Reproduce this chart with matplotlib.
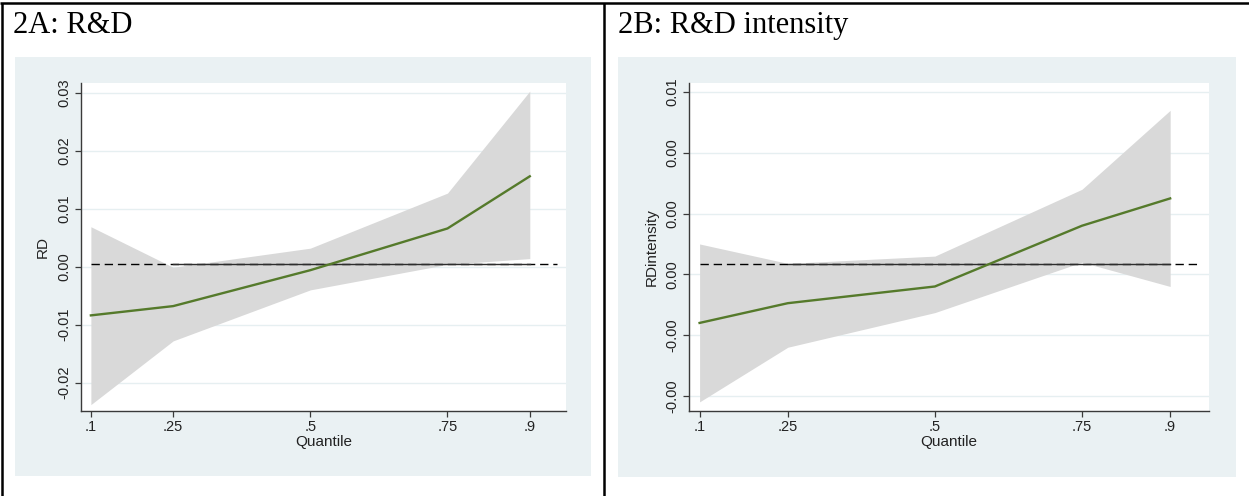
"""Quantile regression coefficient plots (R&D and R&D intensity)."""

import matplotlib
matplotlib.use("Agg")
import matplotlib.pyplot as plt  # noqa: E402
from matplotlib.patches import Rectangle  # noqa: E402
from matplotlib.lines import Line2D  # noqa: E402
from matplotlib.ticker import FormatStrFormatter  # noqa: E402

# ── Data ───────────────────────────────────────────────────────────────────
quantiles = [0.1, 0.25, 0.5, 0.75, 0.9]
quantile_labels = [".1", ".25", ".5", ".75", ".9"]

rd_coef = [-0.0084, -0.0068, -0.0006, 0.0066, 0.0156]
rd_upper = [0.0069, -0.0001, 0.0032, 0.0127, 0.0303]
rd_lower = [-0.0238, -0.0128, -0.0040, 0.0004, 0.0014]
rd_ols = 0.0005
rd_yticks = [-0.02, -0.01, 0.0, 0.01, 0.02, 0.03]

rdi_coef = [-0.0016, -0.00095, -0.0004, 0.0016, 0.0025]
rdi_upper = [0.0010, 0.00036, 0.0006, 0.0028, 0.0054]
rdi_lower = [-0.0042, -0.0024, -0.00126, 0.0004, -0.0004]
rdi_ols = 0.00033
rdi_yticks = [-0.004, -0.002, 0.0, 0.002, 0.004, 0.006]

ols_span = (0.1, 0.95)

# ── Style ──────────────────────────────────────────────────────────────────
W, H = 1249, 496
BG = "#EAF1F3"
GRID = "#E6EFF1"
BAND = "#D9D9D9"
GREEN = "#557A2B"
AXIS = "#3A3A3A"

plt.rcParams.update({
    "font.family": ["Liberation Sans", "DejaVu Sans"],
    "lines.scale_dashes": False,
})


def px_rect(x0, y0, x1, y1):
    """Pixel box (top-left origin) -> figure-fraction [l, b, w, h]."""
    return [x0 / W, 1 - y1 / H, (x1 - x0) / W, (y1 - y0) / H]


def panel(fig, box, bg_box, coef, upper, lower, ols, yticks, ylim, ylabel, ylab_x):
    l, b, w, h = px_rect(*bg_box)
    fig.add_artist(Rectangle((l, b), w, h, transform=fig.transFigure,
                             facecolor=BG, edgecolor="none", zorder=-5))
    ax = fig.add_axes(px_rect(*box))
    ax.set_zorder(2)
    ax.set_facecolor("white")
    ax.fill_between(quantiles, lower, upper, color=BAND, linewidth=0, zorder=2)
    ax.plot(ols_span, [ols, ols], color="black", linewidth=1.0,
            dashes=(6, 3.5), zorder=3)
    ax.plot([quantiles[1], quantiles[-1]], [ols, ols], color="#2E2E2E",
            linewidth=1.0, zorder=3)
    ax.plot(quantiles, coef, color=GREEN, linewidth=1.7, zorder=4)

    ax.set_xlim(0.082, 0.966)
    ax.set_ylim(*ylim)
    ax.set_xticks(quantiles)
    ax.set_xticklabels(quantile_labels)
    ax.set_yticks(yticks)
    ax.yaxis.set_major_formatter(FormatStrFormatter("%.2f"))
    ax.grid(axis="y", color=GRID, linewidth=1.0, zorder=1)
    ax.set_axisbelow(True)

    for side in ("top", "right"):
        ax.spines[side].set_visible(False)
    for side in ("left", "bottom"):
        ax.spines[side].set_color(AXIS)
        ax.spines[side].set_linewidth(1.0)
    ax.tick_params(direction="out", length=4, width=0.9, color=AXIS,
                   labelsize=10.5, labelcolor="#222222", pad=2.5)
    ax.tick_params(axis="y", labelrotation=90, pad=3)
    for lbl in ax.get_yticklabels():
        lbl.set_verticalalignment("center")

    ax.set_xlabel("Quantile", fontsize=11, color="#222222")
    ax.xaxis.set_label_coords(0.5, -0.094)
    ax.xaxis.label.set_verticalalignment("center")
    ax.set_ylabel(ylabel, fontsize=11, color="#222222")
    ax.yaxis.set_label_coords(ylab_x, 0.5)
    ax.yaxis.label.set_verticalalignment("center")
    return ax


fig = plt.figure(figsize=(W / 100, H / 100), dpi=100)

# table borders
for xs, ys in [((0, W), (H - 3, H - 3)), ((1.5, 1.5), (0, H - 3)),
               ((604, 604), (0, H - 3))]:
    fig.add_artist(Line2D([x / W for x in xs], [y / H for y in ys],
                          transform=fig.transFigure, color="black",
                          linewidth=1.8, solid_capstyle="butt"))

fig.text(13 / W, 1 - 33 / H, "2A: R&D", family="Liberation Serif",
         fontsize=22, va="baseline", ha="left")
fig.text(618 / W, 1 - 33 / H, "2B: R&D intensity", family="Liberation Serif",
         fontsize=22, va="baseline", ha="left")

panel(fig, (81, 83, 566, 411), (15, 57, 591, 476),
      rd_coef, rd_upper, rd_lower, rd_ols, rd_yticks, (-0.0249, 0.0317),
      "RD", -0.078)
panel(fig, (689, 83, 1209, 411), (618, 57, 1236, 477),
      rdi_coef, rdi_upper, rdi_lower, rdi_ols, rdi_yticks, (-0.0045, 0.0063),
      "RDintensity", -0.071)

fig.savefig("out.png", dpi=100)
